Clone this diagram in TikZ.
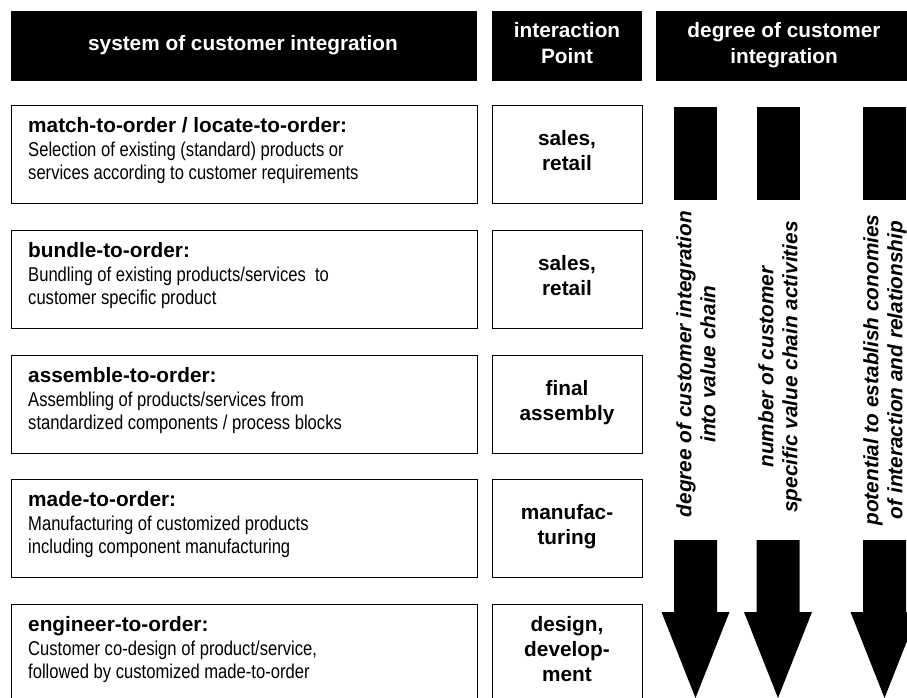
\documentclass[tikz,border=0pt]{standalone}
\usepackage{fontspec}
\setmainfont{Liberation Sans}[FakeStretch=0.83]
\newfontfamily\bfam{Liberation Sans}
\newcommand\hb[1]{{\fontsize{20.8}{23.5}\selectfont\bfam\bfseries #1}}
\tikzset{
  hdr/.style={fill=black, draw=none, anchor=north west, inner sep=0pt, minimum height=70pt},
  lbox/.style={draw=black, line width=1.2pt, anchor=north west, inner sep=0pt, minimum width=466pt, minimum height=98pt},
  ibox/.style={draw=black, line width=1.2pt, anchor=north west, inner sep=0pt, minimum width=150pt, minimum height=98pt},
  ltext/.style={anchor=north west, inner sep=0pt, align=left, font=\fontsize{20}{23.5}\selectfont},
  itext/.style={anchor=north, inner sep=0pt, align=center, font=\fontsize{20.8}{25}\selectfont\bfam\bfseries},
  htext/.style={inner sep=0pt, align=center, text=white, font=\fontsize{20.8}{26}\selectfont\bfam\bfseries},
  rtext/.style={inner sep=0pt, align=center, rotate=90, font=\fontsize{20.8}{24}\selectfont\bfam\bfseries\itshape},
  blk/.style={fill=black, draw=none}
}
\begin{document}
\begin{tikzpicture}[x=1pt,y=-1pt]
\useasboundingbox (0,0) rectangle (907,697);
\clip (0,0) rectangle (907,697);
% headers
\node[hdr, minimum width=466pt] (h1) at (11,11) {};
\node[hdr, minimum width=150pt] (h2) at (492,11) {};
\node[hdr, minimum width=256pt] (h3) at (656,11) {};
\node[htext] (h1t) at (243,45) {system of customer integration};
\node[htext, anchor=north] (h2t) at (567,21.8) {interaction\\Point};
\node[htext, anchor=north] (h3t) at (784,21.8) {degree of customer\\integration};
% rows
\node[lbox] (b1) at (11,105) {};
\node[lbox] (b2) at (11,230) {};
\node[lbox] (b3) at (11,355) {};
\node[lbox] (b4) at (11,479) {};
\node[lbox] (b5) at (11,604) {};
\node[ibox] (i1) at (492,105) {};
\node[ibox] (i2) at (492,230) {};
\node[ibox] (i3) at (492,355) {};
\node[ibox] (i4) at (492,479) {};
\node[ibox] (i5) at (492,604) {};
\node[ltext] (t1) at (28,117.5) {\hb{match-to-order / locate-to-order:}\\Selection of existing (standard) products or\\services according to customer requirements};
\node[ltext] (t2) at (28,242.5) {\hb{bundle-to-order:}\\Bundling of existing products/services~ to\\customer specific product};
\node[ltext] (t3) at (28,367.5) {\hb{assemble-to-order:}\\Assembling of products/services from\\standardized components / process blocks};
\node[ltext] (t4) at (28,491.5) {\hb{made-to-order:}\\Manufacturing of customized products\\including component manufacturing};
\node[ltext] (t5) at (28,616.5) {\hb{engineer-to-order:}\\Customer co-design of product/service,\\followed by customized made-to-order};
\node[itext] (p1) at (567,129.8) {sales,\\retail};
\node[itext] (p2) at (567,254.8) {sales,\\retail};
\node[itext] (p3) at (567,379.8) {final\\assembly};
\node[itext] (p4) at (567,503.8) {manufac-\\turing};
\node[itext] (p5) at (567,615.8) {design,\\develop-\\ment};
% block arrows
\foreach \c in {695.5,778,884.5}{
  \fill[blk] (\c-21.5,107) rectangle (\c+21.5,200);
  \fill[blk] (\c-21.5,540) -- (\c+21.5,540) -- (\c+21.5,612) -- (\c+34,612)
     -- (\c,698) -- (\c-34,612) -- (\c-21.5,612) -- cycle;
}
\node[rtext] (r1) at (696,364) {degree of customer integration\\into value chain};
\node[rtext] (r2) at (780,367) {number of customer\\specific value chain activities};
\node[rtext] (r3) at (885,370) {potential to establish conomies\\of interaction and relationship};
\end{tikzpicture}
\end{document}
